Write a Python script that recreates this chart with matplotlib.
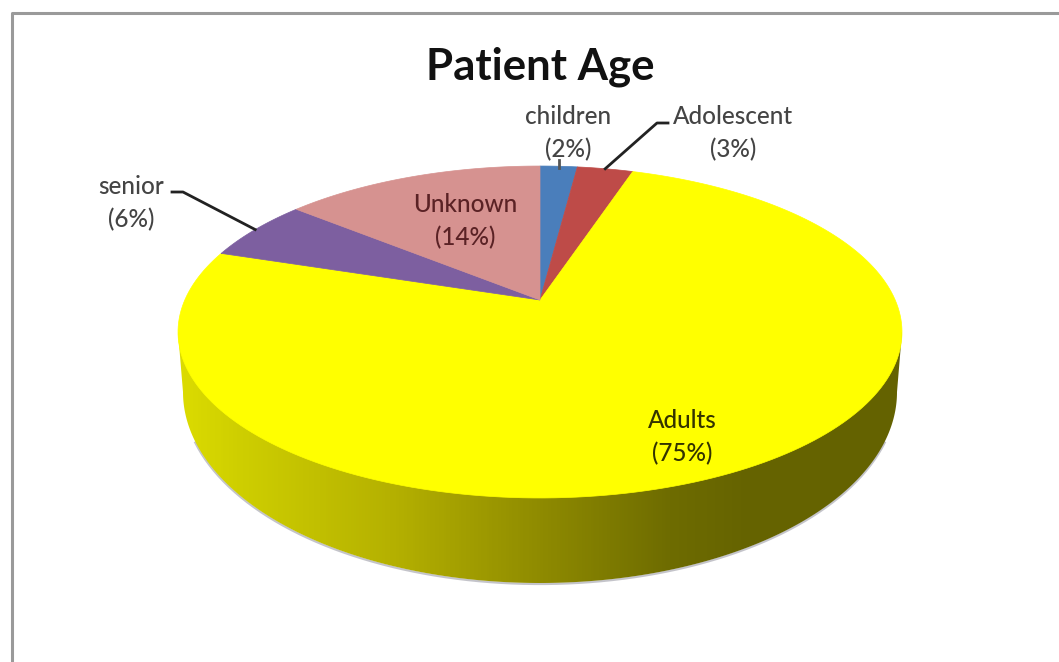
import numpy as np
import matplotlib
matplotlib.use('Agg')
import matplotlib.pyplot as plt
from matplotlib.colors import LinearSegmentedColormap
from matplotlib.patches import Polygon

plt.rcParams['font.family'] = ['Lato', 'DejaVu Sans']

# Chart data, clockwise from 12 o'clock
categories = ['children', 'Adolescent', 'Adults', 'senior', 'Unknown']
percent = [2, 3, 75, 6, 14]
slice_colors = ['#4A7EBB', '#BE4B48', '#FFFF00', '#7D5FA0', '#D69290']
title_text = 'Patient Age'

# Side wall shading, left to right
wall_stops = [(0.0, '#DCDC00'), (0.08, '#CFCF00'), (0.30, '#B4B000'),
              (0.50, '#8F8B00'), (0.68, '#6E6C00'), (0.78, '#666400'), (1.0, '#646200')]


def project(theta):
    """Map an angle on the disc (clockwise from the back) to screen pixels."""
    u, v = np.sin(theta), np.cos(theta)
    w = 1 + 0.1928 * v  # camera foreshortening
    return 540 + 355.2 * u / w, 300 - 159.8 * v / w


def slice_polygon(start, stop):
    theta = np.radians(np.linspace(start, stop, 200))
    x, y = project(theta)
    return np.concatenate([[540], x]), np.concatenate([[300], y])


fig = plt.figure(figsize=(10.59, 6.62), dpi=100)
ax = fig.add_axes([0, 0, 1, 1])

# Chart border, runs off the right and bottom
ax.plot([11.5, 11.5, 1059], [662, 12.5, 12.5], color='#9A9A9A', lw=2.2, zorder=1)

# Side wall: lower rim of the pie, closed up to the top disc
t = np.radians(np.linspace(180, 0, 300))
rim_x = 540 + 357 * np.cos(t)
rim_y = 392 + 191 * np.sin(t)
ax.plot(rim_x[25:-25], rim_y[25:-25] + 1, color='#8A8A96', lw=1.6, alpha=0.5, zorder=2)
wall_x = np.concatenate([rim_x, [902, 178]])
wall_y = np.concatenate([rim_y, [332, 332]])
wall_patch = Polygon(np.column_stack([wall_x, wall_y]), closed=True,
                     facecolor='none', edgecolor='none', zorder=3)
ax.add_patch(wall_patch)
wall_cmap = LinearSegmentedColormap.from_list('wall', wall_stops)
wall = ax.imshow(np.linspace(0, 1, 720)[None, :], cmap=wall_cmap, aspect='auto',
                 extent=(178, 902, 600, 320), zorder=3)
wall.set_clip_path(wall_patch)

# Top face of the pie
edges = np.concatenate([[0], np.cumsum(percent)]) * 3.6
for i, color in enumerate(slice_colors):
    x, y = slice_polygon(edges[i], edges[i + 1])
    ax.fill(x, y, facecolor=color, edgecolor=color, lw=0.5, zorder=4)


def slice_mid(i):
    return project(np.radians((edges[i] + edges[i + 1]) / 2))


# Leader lines
mx, my = slice_mid(0)
ax.plot([mx, mx], [160, my + 2], color='#555555', lw=2, zorder=5)
mx, my = slice_mid(1)
ax.plot([668, 657, mx], [123, 123, my], color='#222222', lw=2, zorder=5)
mx, my = slice_mid(3)
ax.plot([172, 183, mx], [192, 192, my], color='#222222', lw=2, zorder=5)

# Labels
label_pos = [(568, 133), (733, 133), (682, 437), (131, 203), (465, 221)]
label_colors = ['#444444', '#444444', '#333300', '#444444', '#5A2225']
for name, value, pos, color in zip(categories, percent, label_pos, label_colors):
    ax.text(pos[0], pos[1], f'{name}\n({value}%)', ha='center', va='center',
            fontsize=17.5, fontweight='medium', color=color, linespacing=1.5, zorder=6)

ax.text(540, 67, title_text, ha='center', va='center', fontsize=31.5,
        fontweight='bold', color='#111111', zorder=6)

ax.set_xlim(0, 1059)
ax.set_ylim(662, 0)
ax.axis('off')

fig.savefig('out.png', dpi=100, facecolor='white')
